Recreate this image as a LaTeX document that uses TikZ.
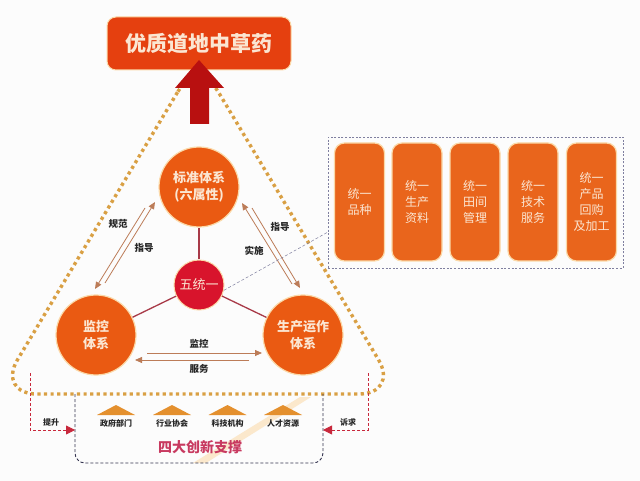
\documentclass[tikz,border=0pt]{standalone}
\usepackage{fontspec}
\setmainfont{Noto Sans CJK SC}
\usetikzlibrary{arrows.meta,shapes.geometric}
\definecolor{titlered}{HTML}{E5400F}
\definecolor{deepred}{HTML}{B81010}
\definecolor{orbit}{HTML}{D9A044}
\definecolor{circ}{HTML}{EA5A12}
\definecolor{hub}{HTML}{D8142C}
\definecolor{spoke}{HTML}{A83A48}
\definecolor{barfill}{HTML}{E9651C}
\definecolor{glow}{HTML}{FBD9A8}
\definecolor{pale}{HTML}{FBE6D2}
\definecolor{flow}{HTML}{BC7C58}
\definecolor{dashgrey}{HTML}{7F7F9F}
\definecolor{navy}{HTML}{33334F}
\definecolor{alert}{HTML}{C8283C}
\definecolor{tent}{HTML}{E4902E}
\definecolor{stripe}{HTML}{FBE8CC}
\definecolor{rosetext}{HTML}{C83A60}
\tikzset{
 x=1pt,y=-1pt,
 disc/.style={circle,fill=circ,draw=glow,line width=1.2pt,minimum size=80pt,inner sep=0pt,text=pale,align=center,font=\bfseries\fontsize{13}{17}\selectfont},
 hubdisc/.style={circle,fill=hub,draw=glow,line width=1pt,minimum size=50pt,inner sep=0pt,text=pale,font=\fontsize{13}{16}\selectfont},
 bar/.style={rounded corners=10pt,fill=barfill,draw=glow,line width=1.2pt,minimum width=50pt,minimum height=118pt,inner sep=0pt,text=pale,align=center,font=\fontsize{12}{16}\selectfont},
 flowline/.style={draw=flow,line width=.8pt,-{Triangle[length=7pt,width=6pt]}},
 spokeline/.style={draw=spoke,line width=1.3pt},
 tag/.style={font=\bfseries\fontsize{9.5}{11}\selectfont,text=black!85,inner sep=0pt},
 small/.style={font=\bfseries\fontsize{8}{10}\selectfont,text=black!85,inner sep=0pt},
 tentshape/.style={fill=tent,draw=none},
 helpline/.style={draw=alert,line width=.8pt,dash pattern=on 3pt off 2pt},
}
\begin{document}
\begin{tikzpicture}
\useasboundingbox (0,0) rectangle (640,481);
\fill[white!99!black] (0,0) rectangle (640,481);

% orbit
\draw[orbit,line width=3.4pt,dash pattern=on 3.2pt off 3.4pt,rounded corners=40pt]
  (198,58) -- (-3,394) -- (399,394) -- cycle;

% title and big arrow
\node[rounded corners=9pt,fill=titlered,draw=glow,line width=1pt,minimum width=184pt,minimum height=53pt,inner sep=0pt,text=pale,font=\bfseries\fontsize{21}{24}\selectfont] (title) at (199,43.5) {优质道地中草药};
\fill[deepred] (199,60) -- (224,88) -- (209,88) -- (209,124) -- (190,124) -- (190,88) -- (175,88) -- cycle;

% bottom stripe
\fill[stripe] (300,397) -- (311,397) -- (206,463) -- (193,463) -- cycle;

% support frame
\draw[navy,line width=.9pt,dash pattern=on 3pt off 2pt,rounded corners=10pt] (75,394) -- (75,463) -- (323,463) -- (323,394);

\foreach \cx/\lab in {116/政府部门,172/行业协会,227.5/科技机构,283/人才资源}{
  \fill[tentshape] (\cx-19,415) -- (\cx,405) -- (\cx+19,415) -- cycle;
  \node[small] at (\cx,423) {\lab};
}
\node[font=\bfseries\fontsize{14}{16}\selectfont,text=rosetext,inner sep=0pt] (four) at (200,447) {四大创新支撑};

% side arrows
\coordinate (lt) at (30,373); \coordinate (lb) at (30,430); \coordinate (lh) at (75,430);
\coordinate (rt) at (368,373); \coordinate (rb) at (368,430); \coordinate (rh) at (323,430);
\draw[helpline,-{Triangle[length=9pt,width=9pt]}] (lt) -- (lb) -- (lh);
\draw[helpline,-{Triangle[length=9pt,width=9pt]}] (rt) -- (rb) -- (rh);
\node[small] at (51,422) {提升};
\node[small] at (348,422) {诉求};

% discs
\node[disc] (std) at (199,187) {标准体系\\(六属性)};
\node[disc] (mon) at (96,335) {监控\\体系};
\node[disc] (ops) at (303,335) {生产运作\\体系};
\node[hubdisc] (hub) at (199,285) {五统一};
\draw[spokeline] (hub) -- (std);
\draw[spokeline] (hub) -- (mon);
\draw[spokeline] (hub) -- (ops);

% flows
\coordinate (a1) at (105,283); \coordinate (a2) at (155,202);
\coordinate (b1) at (145,208); \coordinate (b2) at (95,289);
\coordinate (c1) at (292,284); \coordinate (c2) at (242,203);
\coordinate (d1) at (252,208); \coordinate (d2) at (300,288);
\coordinate (e1) at (147,353); \coordinate (e2) at (262,353);
\coordinate (f1) at (249,360); \coordinate (f2) at (135,360);
\draw[flowline] (a1) -- (a2);
\draw[flowline] (b1) -- (b2);
\draw[flowline] (c1) -- (c2);
\draw[flowline] (d1) -- (d2);
\draw[flowline] (e1) -- (e2);
\draw[flowline] (f1) -- (f2);
\node[tag] at (118,224) {规范};
\node[tag] at (144,248) {指导};
\node[tag] at (280,227) {指导};
\node[tag] at (254,251) {实施};
\node[tag] at (199,344) {监控};
\node[tag] at (199,369) {服务};

% detail panel
\node[draw=dashgrey,line width=.6pt,dash pattern=on 2pt off 1.6pt,minimum width=295pt,minimum height=131pt,inner sep=0pt] (panel) at (475.5,202.5) {};
\node[bar] at (359.5,202) {统一\\品种};
\node[bar] at (417,202) {统一\\生产\\资料};
\node[bar] at (475,202) {统一\\田间\\管理};
\node[bar] at (533,202) {统一\\技术\\服务};
\node[bar] at (591.5,202) {统一\\产品\\回购\\及加工};
\coordinate (pa) at (328,232);
\draw[dashgrey,line width=.5pt,dash pattern=on 3pt off 2pt] (hub.-12) -- (pa);
\end{tikzpicture}
\end{document}
